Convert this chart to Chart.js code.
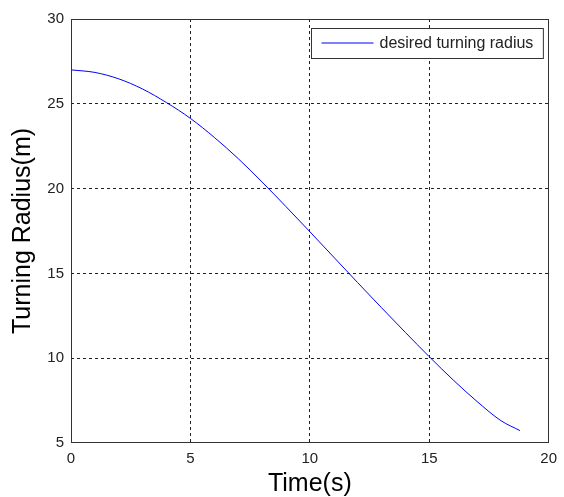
<!DOCTYPE html>
<html>
<head>
<meta charset="utf-8">
<script src="https://cdn.jsdelivr.net/npm/chart.js@4"></script>
<style>
    html, body { margin: 0; padding: 0; background: #fff; }
</style>
</head>
<body>
<canvas id="grafiek" width="564" height="497"></canvas>
<script>
// tijd in seconden en de gewenste draaistraal in meter
var tijd = [0, 1, 2, 3, 4, 5, 6, 7, 8, 9, 10, 11, 12, 13, 14, 15, 16, 17, 18, 18.8];
var straal = [27.0, 26.85, 26.47, 25.87, 25.07, 24.14, 23.02, 21.77, 20.39, 18.94, 17.46, 15.96, 14.46, 12.98, 11.52, 10.09, 8.72, 7.45, 6.32, 5.73];

var xTicks = [0, 5, 10, 15, 20];
var yTicks = [5, 10, 15, 20, 25, 30];
var reeksNaam = 'desired turning radius';

var lijnKleur = '#0000ff';
var kaderKleur = '#333333';

// punten voor de lijn opbouwen uit de twee arrays
var punten = tijd.map(function (t, i) {
    return { x: t, y: straal[i] };
});

// stippellijnen niet tekenen op de rand van het kader
function gridKleur(randen) {
    return function (ctx) {
        if (ctx.tick && randen.indexOf(ctx.tick.value) >= 0) {
            return 'rgba(0,0,0,0)';
        }
        return '#222222';
    };
}

// kader rondom en de legenda rechtsboven (zoals matlab)
var kaderPlugin = {
    id: 'kader',
    afterDraw: function (chart) {
        var ctx = chart.ctx;
        var ca = chart.chartArea;
        var l = Math.round(ca.left) + 0.5;
        var t = Math.round(ca.top) + 0.5;
        var r = Math.round(ca.right) - 0.5;
        var b = Math.round(ca.bottom) - 0.5;

        ctx.save();
        ctx.strokeStyle = kaderKleur;
        ctx.lineWidth = 1;
        ctx.strokeRect(l, t, r - l, b - t);

        // legenda
        var naam = chart.data.datasets[0].label;
        ctx.font = '16px "Liberation Sans", Arial, sans-serif';
        var tekstBreedte = ctx.measureText(naam).width;
        var breedte = 10 + 52 + 6 + tekstBreedte + 10;
        var hoogte = 30;
        var bx = Math.round(r - 6 - breedte) + 0.5;
        var by = t + 9;

        ctx.fillStyle = '#ffffff';
        ctx.fillRect(bx, by, breedte, hoogte);
        ctx.strokeStyle = kaderKleur;
        ctx.strokeRect(bx, by, breedte, hoogte);

        ctx.strokeStyle = chart.data.datasets[0].borderColor;
        ctx.beginPath();
        ctx.moveTo(bx + 10, by + 14.5);
        ctx.lineTo(bx + 62, by + 14.5);
        ctx.stroke();

        ctx.fillStyle = '#222222';
        ctx.textBaseline = 'middle';
        ctx.textAlign = 'left';
        ctx.fillText(naam, bx + 68, by + 15);
        ctx.restore();
    }
};

var chart = new Chart(document.getElementById('grafiek'), {
    type: 'line',
    data: {
        datasets: [{
            label: reeksNaam,
            data: punten,
            borderColor: lijnKleur,
            borderWidth: 1,
            pointRadius: 0,
            fill: false,
            cubicInterpolationMode: 'monotone'
        }]
    },
    options: {
        responsive: false,
        animation: false,
        devicePixelRatio: 1,
        layout: { padding: { top: 19, right: 10, left: 0, bottom: 0 } },
        plugins: {
            legend: { display: false },
            tooltip: { enabled: false }
        },
        scales: {
            x: {
                type: 'linear',
                min: 0,
                max: 20,
                afterBuildTicks: function (scale) {
                    scale.ticks = xTicks.map(function (v) { return { value: v }; });
                },
                afterFit: function (scale) { scale.height = 54; },
                grid: { color: gridKleur([0, 20]), drawTicks: false, lineWidth: 1 },
                border: { display: false, dash: [3, 3] },
                ticks: {
                    padding: 7,
                    color: '#222222',
                    font: { family: '"Liberation Sans", Arial, sans-serif', size: 15 }
                },
                title: {
                    display: true,
                    text: 'Time(s)',
                    color: '#000000',
                    padding: { top: 0, bottom: 0 },
                    font: { family: '"Liberation Sans", Arial, sans-serif', size: 25, lineHeight: 1 }
                }
            },
            y: {
                type: 'linear',
                min: 5,
                max: 30,
                afterBuildTicks: function (scale) {
                    scale.ticks = yTicks.map(function (v) { return { value: v }; });
                },
                afterFit: function (scale) { scale.width = 71; },
                grid: { color: gridKleur([5, 30]), drawTicks: false, lineWidth: 1 },
                border: { display: false, dash: [3, 3] },
                ticks: {
                    padding: 7,
                    color: '#222222',
                    font: { family: '"Liberation Sans", Arial, sans-serif', size: 15 }
                },
                title: {
                    display: true,
                    text: 'Turning Radius(m)',
                    color: '#000000',
                    padding: { top: 11, bottom: 0 },
                    font: { family: '"Liberation Sans", Arial, sans-serif', size: 25, lineHeight: 1 }
                }
            }
        }
    },
    plugins: [kaderPlugin]
});
</script>
</body>
</html>
